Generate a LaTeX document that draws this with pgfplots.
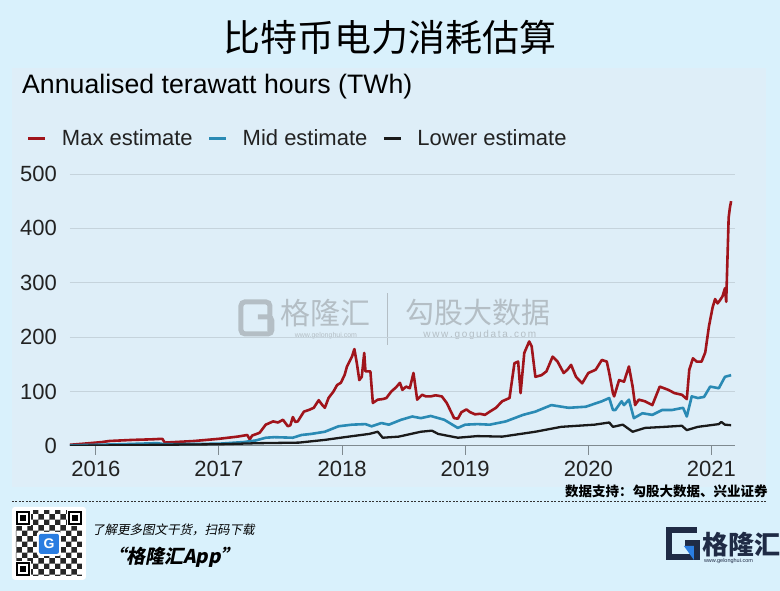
\documentclass[border=0pt]{standalone}
\usepackage{fontspec}
\setmainfont{Liberation Sans}
\newfontfamily\cjk{Noto Sans CJK SC}
\newfontfamily\cjksl[FakeSlant=0.2]{Noto Sans CJK SC}
\usepackage{pgfplots}
\pgfplotsset{compat=1.18}
\usetikzlibrary{patterns}
\definecolor{pagebg}{HTML}{D9F1FC}
\definecolor{panelbg}{HTML}{DEEEF8}
\definecolor{gridgray}{HTML}{C5D3DC}
\definecolor{axisgray}{HTML}{7F8A90}
\definecolor{labelgray}{HTML}{222222}
\definecolor{maxred}{HTML}{A0141B}
\definecolor{midblue}{HTML}{2A8AB4}
\definecolor{lowblack}{HTML}{1A1A1A}
\definecolor{navy}{HTML}{1F2B45}
\definecolor{logoblue}{HTML}{2A7DE1}
\begin{document}
\begin{tikzpicture}[x=1pt,y=1pt]
\fill[pagebg] (0,0) rectangle (780,591);
\fill[panelbg] (12,104) rectangle (766,523);
% title
\node at (390,554) {\cjk\fontsize{37}{40}\selectfont 比特币电力消耗估算};
\node[anchor=base west,inner sep=0pt] at (22,497) {\fontsize{26.7}{30}\selectfont Annualised terawatt hours (TWh)};
% watermark
\begin{scope}[opacity=0.35]
\draw[gray!80!black,line width=5pt,rounded corners=4pt] (270,260) -- (270,289) -- (241,289) -- (241,257) -- (272,257) -- (272,274) -- (258,274);
\node[text=gray!80!black] at (326,278) {\cjk\fontsize{30}{32}\selectfont 格隆汇};
\node[text=gray!80!black] at (326,255) {\fontsize{7}{8}\selectfont www.gelonghui.com};
\draw[gray!80!black,line width=0.8pt] (387,246) -- (387,298);
\node[text=gray!80!black] at (478,278) {\cjk\fontsize{29}{31}\selectfont 勾股大数据};
\node[text=gray!80!black] at (480,256) {\fontsize{10}{11}\selectfont w\,w\,w\,.\,g\,o\,g\,u\,d\,a\,t\,a\,.\,c\,o\,m};
\end{scope}
\begin{axis}[
  at={(70pt,145pt)}, anchor=south west,
  scale only axis, width=665pt, height=272pt,
  xmin=2015.79, xmax=2021.19, ymin=0, ymax=500,
  axis x line*=bottom, axis y line*=left,
  y axis line style={draw=none},
  x axis line style={draw=axisgray, line width=1pt, -},
  xtick={2016,2017,2018,2019,2020,2021},
  xticklabels={2016,2017,2018,2019,2020,2021},
  ytick={0,100,200,300,400,500},
  yticklabels={0,100,200,300,400,500},
  tick align=outside,
  major tick length=9pt,
  xtick style={draw=axisgray, line width=1pt},
  ytick style={draw=none},
  ymajorgrids, grid style={draw=gridgray, line width=0.8pt},
  tick label style={font=\fontsize{22}{24}\selectfont, text=labelgray, inner sep=0pt},
  xticklabel style={yshift=-6pt},
  yticklabel style={xshift=-4pt},
  /pgf/number format/assume math mode=true,
  legend columns=3,
  legend style={draw=none, fill=none, at={(-0.0695,1.132)}, anchor=west,
    font=\fontsize{22}{24}\selectfont, text=labelgray,
    nodes={inner sep=0pt},
    /tikz/every odd column/.append style={column sep=15pt},
    /tikz/every even column/.append style={column sep=15pt}},
  legend image code/.code={\draw[line width=3pt,#1] (0pt,0pt) -- (17pt,0pt);},
]
\addplot[maxred, line width=2.6pt, line join=round] coordinates {
(2015.79,2) (2015.9,4) (2016.05,7) (2016.11,9) (2016.3,11) (2016.45,12) (2016.54,13) (2016.56,6)
(2016.8,9) (2017.0,13) (2017.15,17) (2017.23,20) (2017.25,12) (2017.27,19) (2017.33,24) (2017.38,39)
(2017.44,45) (2017.48,43) (2017.52,48) (2017.56,36) (2017.58,38) (2017.60,53) (2017.62,44) (2017.64,45)
(2017.69,63) (2017.73,66) (2017.77,70) (2017.81,84) (2017.84,75) (2017.86,70) (2017.89,88) (2017.93,100)
(2017.96,112) (2017.99,116) (2018.02,130) (2018.04,146) (2018.08,164) (2018.10,178) (2018.12,152)
(2018.14,121) (2018.16,127) (2018.18,171) (2018.19,137) (2018.23,137) (2018.25,79) (2018.29,85)
(2018.33,86) (2018.36,88) (2018.40,100) (2018.44,108) (2018.47,116) (2018.49,103) (2018.52,109)
(2018.55,106) (2018.58,134) (2018.61,85) (2018.65,94) (2018.68,91) (2018.72,91) (2018.76,93)
(2018.81,91) (2018.85,79) (2018.91,51) (2018.94,50) (2018.97,62) (2019.01,67) (2019.04,62)
(2019.08,58) (2019.12,59) (2019.16,57) (2019.20,63) (2019.25,70) (2019.30,82) (2019.36,88)
(2019.40,152) (2019.43,155) (2019.45,97) (2019.48,171) (2019.52,192) (2019.54,183) (2019.57,127)
(2019.62,130) (2019.66,137) (2019.71,164) (2019.75,155) (2019.80,134) (2019.83,140) (2019.86,149)
(2019.90,127) (2019.95,115) (2020.0,134) (2020.06,140) (2020.11,158) (2020.15,155) (2020.17,134)
(2020.20,97) (2020.21,91) (2020.25,121) (2020.29,118) (2020.33,146) (2020.36,109) (2020.38,75)
(2020.41,85) (2020.46,82) (2020.52,75) (2020.58,109) (2020.65,103) (2020.70,97) (2020.76,94)
(2020.79,88) (2020.80,86) (2020.82,140) (2020.85,161) (2020.88,155) (2020.92,155) (2020.95,172)
(2020.98,220) (2021.01,255) (2021.03,270) (2021.05,262) (2021.07,268) (2021.09,275) (2021.11,290)
(2021.12,265) (2021.14,420) (2021.15,438) (2021.16,450)
};
\addlegendentry{Max estimate}
\addplot[midblue, line width=2.6pt, line join=round] coordinates {
(2015.79,1) (2016.2,3) (2016.5,5) (2016.56,3) (2017.0,4) (2017.2,7) (2017.3,10) (2017.38,15)
(2017.45,16) (2017.6,15) (2017.67,20) (2017.75,22) (2017.86,26) (2017.97,36) (2018.08,39)
(2018.19,40) (2018.24,36) (2018.32,42) (2018.38,39) (2018.48,48) (2018.57,54) (2018.64,51)
(2018.72,55) (2018.83,48) (2018.94,33) (2019.0,39) (2019.1,40) (2019.2,39) (2019.33,45)
(2019.47,57) (2019.57,63) (2019.70,75) (2019.84,70) (2019.98,72) (2020.11,82) (2020.17,88)
(2020.20,66) (2020.22,66) (2020.27,82) (2020.29,75) (2020.33,85) (2020.37,51) (2020.44,60)
(2020.52,57) (2020.60,66) (2020.68,66) (2020.77,70) (2020.80,54) (2020.84,91) (2020.89,88)
(2020.94,90) (2020.99,109) (2021.06,106) (2021.11,127) (2021.16,130)
};
\addlegendentry{Mid estimate}
\addplot[lowblack, line width=2.3pt, line join=round] coordinates {
(2015.79,0) (2016.5,2) (2017.0,3) (2017.33,5) (2017.65,6) (2017.86,11) (2018.02,16) (2018.22,22)
(2018.29,26) (2018.33,15) (2018.46,17) (2018.64,26) (2018.73,28) (2018.78,22) (2018.94,15)
(2019.1,18) (2019.30,17) (2019.57,26) (2019.78,35) (2020.05,39) (2020.17,43) (2020.20,35)
(2020.28,39) (2020.36,26) (2020.46,33) (2020.62,35) (2020.76,37) (2020.80,29) (2020.89,35)
(2021.06,40) (2021.08,44) (2021.11,39) (2021.16,38)
};
\addlegendentry{Lower estimate}
\end{axis}
% source and footer
\node[anchor=east,inner sep=0pt] at (768,100) {\cjk\bfseries\fontsize{13.5}{15}\selectfont 数据支持：勾股大数据、兴业证券};
\draw[black!80,line width=0.7pt,dash pattern=on 2pt off 1.5pt] (12,90) -- (768,90);
% QR-like box
\fill[white,rounded corners=3pt] (12,11) rectangle (86,84);
\fill[pattern=checkerboard,pattern color=black!85] (16,15) rectangle (82,80);
\foreach \px/\py in {16/66,68/66,16/15}{
  \fill[white] (\px-1,\py-1) rectangle (\px+15,\py+15);
  \fill[black] (\px,\py) rectangle (\px+14,\py+14);
  \fill[white] (\px+2,\py+2) rectangle (\px+12,\py+12);
  \fill[black] (\px+4,\py+4) rectangle (\px+10,\py+10);
}
\fill[white,rounded corners=2pt] (37,35) rectangle (61,59);
\fill[logoblue,rounded corners=2pt] (39,37) rectangle (59,57);
\node[text=white] at (49,47) {\bfseries\fontsize{14}{14}\selectfont G};
\node[anchor=west,inner sep=0pt] at (92,61) {\cjksl\fontsize{12.5}{14}\selectfont 了解更多图文干货，扫码下载};
\node[anchor=west,inner sep=0pt] at (107,34) {\cjksl\bfseries\fontsize{19}{21}\selectfont “格隆汇App”};
% logo
\draw[navy,line width=6pt] (697,61) -- (669,61) -- (669,34) -- (697,34) -- (697,48) -- (685,48);
\fill[logoblue] (684,45) -- (694,45) -- (694,31) -- cycle;
\node[anchor=west,inner sep=0pt,text=navy] at (702,46) {\cjk\bfseries\fontsize{26}{28}\selectfont 格隆汇};
\node[anchor=west,inner sep=0pt,text=navy] at (704,30) {\fontsize{5.5}{6}\selectfont www.gelonghui.com};
\end{tikzpicture}
\end{document}
